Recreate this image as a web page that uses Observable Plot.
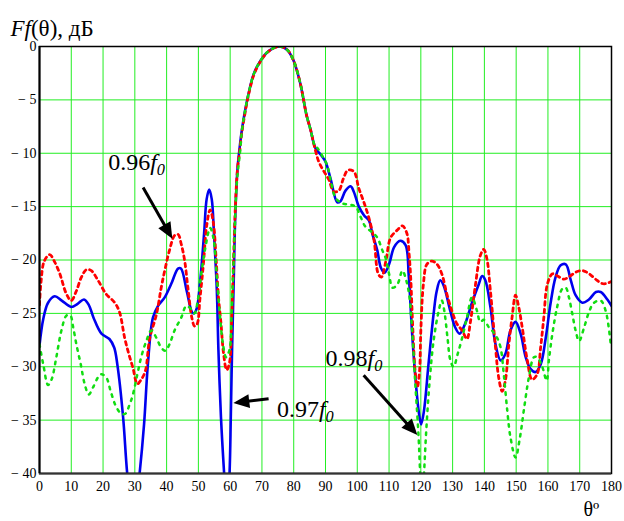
<!DOCTYPE html>
<html><head><meta charset="utf-8">
<script src="https://cdn.jsdelivr.net/npm/d3@7"></script>
<script src="https://cdn.jsdelivr.net/npm/@observablehq/plot@0.6"></script>
<style>
body{margin:0;background:#fff}
#chart{width:624px;height:521px}
#chart svg, #chart svg text, #chart svg tspan{font-family:"Liberation Serif","Tinos","DejaVu Serif","Noto Serif","Times New Roman",serif !important}
</style>
</head><body><div id="chart"></div>
<script>
// ---- data ----
const xTicks = [0,10,20,30,40,50,60,70,80,90,100,110,120,130,140,150,160,170,180];
const yTicks = [0,-5,-10,-15,-20,-25,-30,-35,-40];

// 0.97 f0 (solid blue)
const blueTheta = [0,1.2,2.7,4.8,7,10,12,14,15.5,17,19.5,22,23.5,24.5,26.3,27.6,29.5,31.5,32.9,34.1,35.7,37.3,39.4,41.5,43.6,44.5,46.4,48,48.6,49.5,50.5,51.8,52.6,53.4,54.2,54.9,55.8,56.3,57.1,58.1,59,59.8,60.2,60.6,61.1,61.6,62.3,62.9,63.7,64.7,65.8,67.4,69.5,72.1,75.5,77.9,80,82.1,83.1,84,85.3,86.8,88.4,90,91.6,93.7,94.7,96.3,97.9,98.9,100.5,102.1,103.7,104.7,106.3,107.4,108.6,110,111.6,113.5,115.2,116.2,117.2,118.2,119.3,120.1,121,122.4,124,125,126.1,127.2,129.3,130.8,132.2,133.9,136.1,138.2,139.3,140.3,141.9,143.5,145.1,146.6,148.2,149.8,151.4,153,154.5,156.1,157.7,159.3,160.8,162.4,164,165.6,167.2,168.7,170.8,172.9,175.1,176.6,178.7,180];
const blueDb = [-28,-25.5,-24,-23.4,-23.8,-24.4,-24.1,-23.7,-24.2,-25.4,-26.9,-27.4,-28.2,-29.8,-34.7,-40,-45,-40,-35.4,-29.8,-25.4,-24.3,-23.5,-22.2,-20.8,-20.8,-23,-24.9,-25,-24.5,-22.2,-17.5,-14.3,-13.4,-14.3,-17.5,-22.8,-28.4,-34.7,-40,-44,-40,-34.7,-28.4,-22.2,-15.9,-11.5,-9.7,-7.8,-6,-4.4,-2.6,-1.35,-0.43,0,-0.3,-1.35,-3.5,-5,-6.4,-7.8,-9.5,-10.1,-10.8,-12.4,-14.6,-14.5,-13.5,-13.1,-13.6,-15,-15.8,-16.3,-17.5,-19.1,-20.7,-21.2,-20.4,-18.8,-18.2,-18.6,-21.5,-26.6,-30.7,-34.1,-35.4,-34.1,-29.8,-25.1,-22.9,-21.9,-22.4,-24.8,-26.3,-26.9,-26,-24,-22.3,-21.5,-21.9,-24.4,-27.9,-29.4,-28.8,-26.6,-25.8,-26.9,-29.1,-30.2,-30.5,-29.8,-27.3,-24.1,-21.6,-20.5,-20.4,-21.9,-23.3,-24,-23.7,-23,-23,-23.7,-24.3];

// 0.96 f0 (red dashed)
const redTheta = [0,0.5,1.5,3.2,4.8,6.4,8.5,10,11.6,13.2,14.8,16.3,18.4,21,23.7,25.2,26.8,28.1,29.4,30.8,32,33.3,34.7,36.8,38.3,39.4,40.9,42.5,43.6,44.6,45.7,46.7,48,48.8,49.6,50.5,51.6,52.6,53.7,54.7,55.6,56.3,57.1,57.9,58.9,59.8,60.5,61.1,61.6,62.3,63,63.7,64.7,65.8,67.4,69.5,72.1,75.5,77.9,80,82.1,83.1,84,85.3,86.8,87.9,89.5,91.1,92.6,94.2,95.6,97,98.9,100.5,102.1,103.7,105.3,106.6,107.6,109,110.5,112.6,114.2,115.6,116.3,116.8,117.5,118.2,118.9,119.6,120,120.8,121.9,123.5,125.1,126.6,128.2,129.8,131.4,133,134.5,135.6,137.2,138.7,139.8,140.8,141.9,143.5,144.5,145.6,146.6,147.7,148.7,149.8,150.8,151.9,153.5,155,156.6,157.7,158.7,159.8,161.4,163,165,167,169,171,173,175,177,178.5,180];
const redDb = [-24.2,-22,-20.1,-19.5,-20.2,-21.3,-23.2,-23.8,-22.9,-21.6,-20.9,-21,-21.9,-23.2,-24,-24.9,-27.3,-28.8,-30.1,-31.6,-31.2,-30.4,-27.3,-25.1,-22.6,-21,-19.1,-17.7,-17.6,-18.5,-20.1,-22.6,-25.5,-26.2,-26,-23.6,-20.3,-16.8,-15.3,-16.5,-20,-23.4,-25.9,-28.7,-30.3,-29.6,-25.3,-19.7,-15.3,-11.5,-9.8,-8,-6.2,-4.5,-2.7,-1.4,-0.45,0,-0.3,-1.35,-3.5,-5,-6.4,-7.8,-9.7,-10.8,-11.7,-12.5,-13.6,-13.5,-12.4,-11.6,-11.7,-13.3,-14.6,-16.1,-18.2,-21.3,-21.6,-20.1,-17.9,-17.2,-16.8,-17.5,-19.4,-21.6,-26.6,-30.4,-31.9,-30.4,-26.6,-22.3,-20.4,-20.1,-20.4,-21.3,-23.2,-24.8,-26,-26.6,-27.4,-25.8,-22.3,-19.6,-19,-19.9,-22.9,-28.2,-31,-32.3,-31.3,-27.9,-25.4,-23.3,-24.4,-26.3,-29.4,-31.2,-30.7,-28.2,-25.4,-22.3,-21.3,-21.5,-21.8,-21.5,-21.1,-21,-21.3,-21.8,-22.2,-22.2,-22];

// 0.98 f0 (green dotted)
const greenTheta = [0,1.2,2.7,3.8,5.3,6.9,8.5,9.7,10.6,11.6,13,14.2,15.5,16.9,18.4,19.5,21,22.4,24.2,25.8,27,28.4,29.4,30.8,32,33.6,35.2,36.8,38.3,39.6,40.9,42.5,44.6,46.2,47.7,48.8,49.8,50.9,52.1,53.7,54.7,55.8,56.8,57.7,58.7,59.8,60.5,61.3,62.1,63.2,63.7,64.7,65.8,67.4,69.5,72.1,75.5,77.9,80,82.1,83.1,84,85.3,86.8,87.4,88.9,90.5,91.6,93.2,95.3,97.4,99.5,101.1,102.6,104.7,106.3,107.9,108.9,110,111.1,112.6,114.2,115.3,116.3,117.2,118.2,119.3,119.8,120.4,121,121.7,122.7,124,125.6,126.6,127.4,128.4,129.3,130.3,131.6,133,134.5,136.1,137.7,138.7,139.8,141.4,142.4,144,145.1,146.1,147.2,148.2,149.8,151.2,152.4,154,155.6,156.6,158.2,159.6,160.3,161.4,162.9,164.5,165.6,166.6,167.7,168.7,169.8,171.4,173,174.5,176.6,178.2,179.8];
const greenDb = [-27.9,-29.8,-31.7,-31.2,-29.1,-26.6,-25.2,-25.2,-26.3,-27.9,-29.8,-31.6,-32.6,-31.9,-31,-30.7,-31,-32.3,-33.8,-34.4,-34.4,-33.5,-32.6,-30.7,-29.1,-27.6,-26.6,-27.3,-28.2,-28.5,-27.9,-26.6,-25.4,-24.3,-24.6,-25,-23.8,-21.3,-19,-17,-17.9,-21.5,-25.3,-27.8,-29.1,-28.4,-24.7,-18.4,-12.8,-9.6,-7.9,-6,-4.4,-2.6,-1.35,-0.43,0,-0.3,-1.35,-3.5,-5,-6.4,-7.8,-9.4,-9.5,-10.2,-11.1,-12.5,-14.2,-14.7,-14.8,-15,-16,-16.9,-17.4,-17.9,-19.1,-19.8,-21.3,-22.6,-22.3,-21,-21.8,-23.2,-26.3,-31.3,-36.6,-40,-43,-40,-36,-31.6,-27.6,-24.8,-23.8,-24.8,-27.3,-29.4,-30,-28.8,-27.3,-25.4,-23.5,-24.8,-25.8,-25.6,-26.3,-26.6,-27.3,-28.2,-30.7,-34.1,-36.6,-38.5,-36.6,-34.1,-31,-29.1,-29.1,-30,-31.3,-29.4,-26.9,-24.4,-22.7,-22.6,-23.5,-25.1,-26.6,-27.6,-26.3,-24.8,-24,-23.8,-24.8,-28];

// annotations
const labelText  = ["0.96f0","0.97f0","0.98f0"];
const labelTheta = [21.6, 74.7, 90];
const labelDb    = [-11.6, -34.7, -29.9];
const arrowFromTheta = [32.6, 72.1, 102.0];
const arrowFromDb    = [-13.2, -33.0, -30.8];
const arrowToTheta   = [41.8, 61.0, 118.9];
const arrowToDb      = [-18.0, -33.4, -36.4];
const titleText = "Ff(θ), дБ";
const xLabelText = "θº";

// ---- build ----
const W=624,H=521,ML=39,MR=13,MT=46,MB=48;
const rows = (t,d) => t.map((v,i)=>({theta:v, db:d[i]}));
const blue = rows(blueTheta, blueDb), red = rows(redTheta, redDb), green = rows(greenTheta, greenDb);
const labels = labelText.map((s,i)=>({text:s, theta:labelTheta[i], db:labelDb[i]}));

const pxPerDeg=(W-ML-MR)/180, pxPerDb=(H-MT-MB)/40;
const arrows = arrowFromTheta.map((t,i)=>{
  const dxp=(arrowToTheta[i]-t)*pxPerDeg, dyp=-(arrowToDb[i]-arrowFromDb[i])*pxPerDb;
  const len=Math.hypot(dxp,dyp), ux=dxp/len, uy=dyp/len, back=12;
  return {x1:t, y1:arrowFromDb[i], x2:arrowToTheta[i]-ux*back/pxPerDeg, y2:arrowToDb[i]+uy*back/pxPerDb,
          tx:arrowToTheta[i], ty:arrowToDb[i], rot:Math.atan2(ux,-uy)*180/Math.PI};
});
const headSymbol = {draw(ctx){ctx.moveTo(0,0);ctx.lineTo(7,16);ctx.lineTo(-7,16);ctx.closePath();}};

const FONT = "'Liberation Serif', 'Tinos', 'DejaVu Serif', 'Noto Serif', 'Times New Roman', serif";
const gridColor = "#22ee22";
const plot = Plot.plot({
  width: W, height: H,
  marginLeft: ML, marginRight: MR, marginTop: MT, marginBottom: MB,
  style: {fontFamily: FONT, fontSize: "14px", background: "white", color: "black", overflow: "visible"},
  x: {domain: [0,180], ticks: xTicks, tickSize: 0, tickPadding: 8, tickFormat: d => String(d), label: null},
  y: {domain: [-40,0], ticks: yTicks, tickSize: 0, tickPadding: 3, tickFormat: d => d === 0 ? "0" : "\u2212 " + Math.abs(d), label: null},
  marks: [
    Plot.ruleX(xTicks.slice(1,-1), {stroke: gridColor, strokeWidth: 1}),
    Plot.ruleY(yTicks.slice(1,-1), {stroke: gridColor, strokeWidth: 1}),
    Plot.line(blue, {x:"theta", y:"db", stroke:"#0000ee", strokeWidth:2.6, curve:"catmull-rom", clip:true}),
    Plot.line(red, {x:"theta", y:"db", stroke:"#ff0000", strokeWidth:2.8, strokeDasharray:"3.5,4", curve:"catmull-rom", clip:true}),
    Plot.line(green, {x:"theta", y:"db", stroke:"#11dd11", strokeWidth:2.5, strokeDasharray:"2.5,5.5", curve:"catmull-rom", clip:true}),
    Plot.frame({stroke:"black", strokeWidth:1.5}),
    Plot.ruleY([-40], {stroke:"#333", strokeWidth:2}),
    Plot.ruleX([0], {stroke:"black", strokeWidth:2}),
    Plot.link(arrows, {x1:"x1", y1:"y1", x2:"x2", y2:"y2", stroke:"black", strokeWidth:3}),
    Plot.dot(arrows, {x:"tx", y:"ty", symbol: headSymbol, rotate:"rot", fill:"black", stroke:"none"}),
    Plot.text(labels, {x:"theta", y:"db", text:"text", textAnchor:"start", lineAnchor:"bottom", fontSize:24, fontFamily: FONT, fill:"black"}),
    Plot.text([titleText], {frameAnchor:"top-left", text:d=>d, dx:-29, dy:-11, textAnchor:"start", lineAnchor:"bottom", fontSize:23, fontFamily: FONT, fill:"black"}),
    Plot.text([xLabelText], {frameAnchor:"bottom-right", text:d=>d, dx:-28, dy:42, textAnchor:"start", lineAnchor:"bottom", fontSize:20, fontFamily: FONT, fill:"black"})
  ]
});
document.getElementById("chart").appendChild(plot);

// rich text (italics / subscripts)
const NS = "http://www.w3.org/2000/svg";
function rich(el, parts){
  el.textContent = "";
  for (const p of parts){
    const ts = document.createElementNS(NS, "tspan");
    ts.textContent = p.t;
    if (p.i) ts.setAttribute("font-style", "italic");
    if (p.sub){ ts.setAttribute("font-size", "0.68em"); ts.setAttribute("dy", "0.3em"); }
    el.appendChild(ts);
  }
}
plot.querySelectorAll("text").forEach(el => {
  el.setAttribute("font-family", FONT);
  const s = el.textContent;
  if (s === titleText) rich(el, [{t:"F",i:1},{t:"f",i:1},{t:"(θ), дБ"}]);
  else if (labelText.includes(s)) rich(el, [{t:s.slice(0,4)},{t:"f",i:1},{t:"0",i:1,sub:1}]);
});
</script></body></html>
